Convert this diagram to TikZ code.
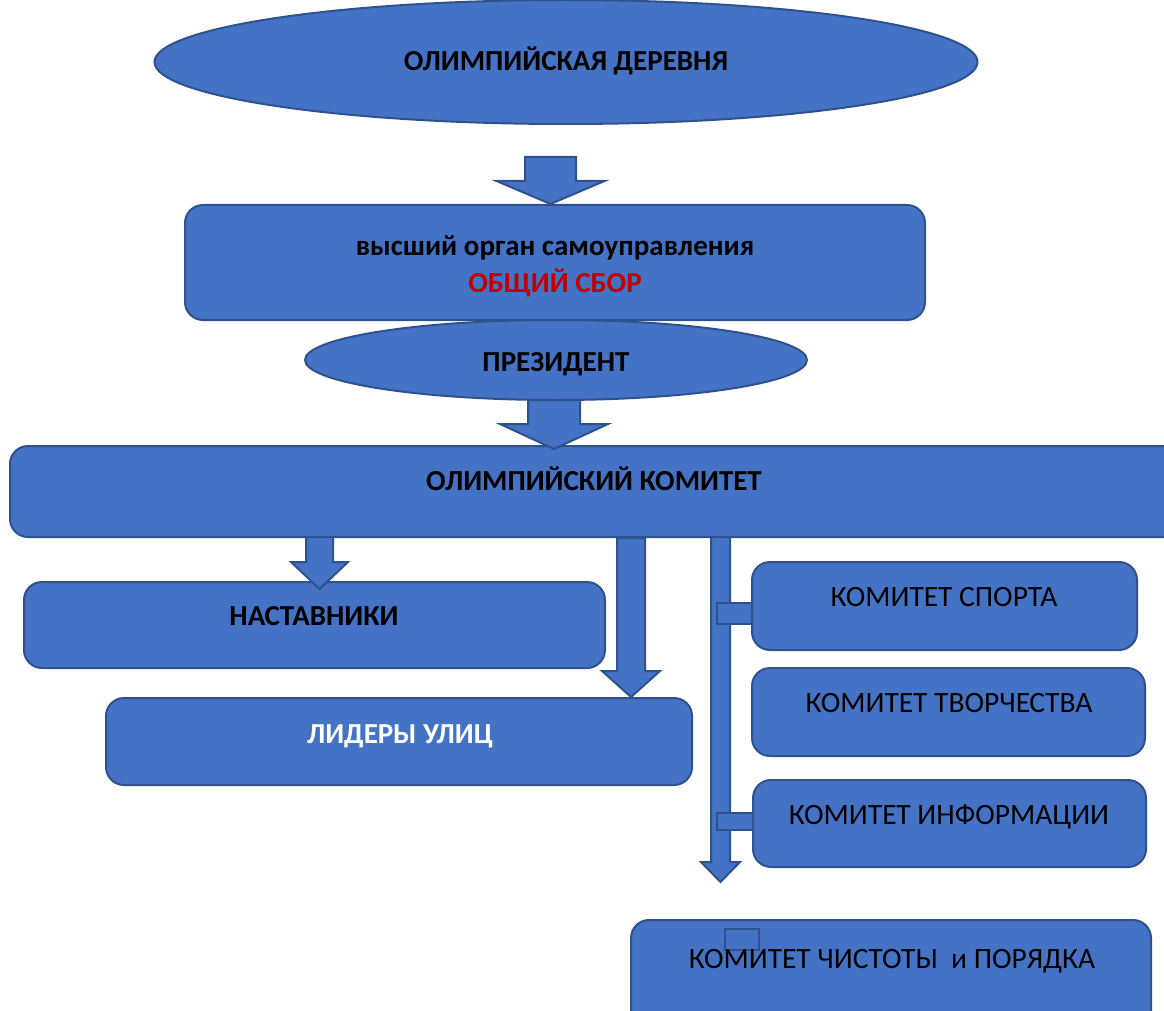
\documentclass[tikz,border=0pt]{standalone}
\usepackage{fontspec}
\setmainfont{Carlito}
\usetikzlibrary{calc,shapes.geometric}
\usepackage{xcolor}
\definecolor{BoxBlue}{RGB}{68,114,196}
\definecolor{EdgeBlue}{RGB}{47,82,143}
\definecolor{AlertRed}{RGB}{192,0,0}
\tikzset{
  oval/.style={ellipse, draw=EdgeBlue, fill=BoxBlue, line width=2pt,
    inner sep=0pt},
  panel/.style={draw=EdgeBlue, fill=BoxBlue, line width=2pt,
    rounded corners=18pt, inner sep=0pt},
  stub/.style={draw=EdgeBlue, fill=BoxBlue, line width=2pt, inner sep=0pt},
  heading/.style={anchor=base, inner sep=0pt,
    font=\fontsize{29}{33}\selectfont\bfseries},
  plain/.style={anchor=base, inner sep=0pt, font=\fontsize{29.5}{34}\selectfont},
  fat/.style={draw=EdgeBlue, fill=BoxBlue, line width=2pt, line join=miter}
}
% block arrow: #1 start, #2 tip, #3 half shaft, #4 half head, #5 head length
\newcommand{\blockarrow}[5]{%
  \draw[fat] let \p1=(#1), \p2=(#2) in
    (\x2-#3,\y1) -- (\x2+#3,\y1) -- (\x2+#3,\y2+#5) -- (\x2+#4,\y2+#5)
    -- (\x2,\y2) -- (\x2-#4,\y2+#5) -- (\x2-#3,\y2+#5) -- cycle;}

\begin{document}
\begin{tikzpicture}[x=1pt,y=-1pt]
  \useasboundingbox (0,0) rectangle (1164,1011);

  % top levels
  \node[oval, minimum width=823pt, minimum height=124pt] (village) at (566,62) {};
  \node[panel, minimum width=740pt, minimum height=115pt] (council) at (555,262.5) {};
  \node[oval, minimum width=502pt, minimum height=80pt] (president) at (556,360) {};
  \node[panel, minimum width=1180pt, minimum height=91pt] (committee) at (600,491.5) {};

  % left branch
  \node[panel, minimum width=581pt, minimum height=86pt] (mentors) at (314.5,625) {};
  \node[panel, minimum width=586pt, minimum height=87pt] (leaders) at (399,741.5) {};

  % right branch
  \node[panel, minimum width=385pt, minimum height=88pt] (sport) at (944.5,606) {};
  \node[panel, minimum width=393pt, minimum height=88pt] (art) at (948.5,712) {};
  \node[panel, minimum width=393pt, minimum height=87pt] (info) at (949.5,823.5) {};
  \node[panel, minimum width=520pt, minimum height=120pt] (order) at (891,980) {};

  % arrows
  \coordinate (a1) at (550.5,157);
  \coordinate (a2) at (554,400);
  \coordinate (a3) at (319.5,537);
  \coordinate (a4) at (631,538);
  \coordinate (a5) at (720.5,537);
  \coordinate (a5tip) at (720.5,882);
  \blockarrow{a1}{a1 |- council.north}{25.5}{54}{23}
  \blockarrow{a2}{$(a2 |- committee.north)+(0,4)$}{26}{54}{25}
  \blockarrow{a3}{$(a3 |- mentors.north)+(0,8)$}{13.5}{28.5}{27}
  \blockarrow{a4}{a4 |- leaders.north}{14}{29}{26}
  \blockarrow{a5}{a5tip}{9.5}{19.5}{20}

  % stubs
  \node[stub, minimum width=35pt, minimum height=21pt] (stubsport) at (734.5,613.5) {};
  \node[stub, minimum width=36pt, minimum height=17pt] (stubinfo) at (735,821.5) {};
  \node[stub, minimum width=34pt, minimum height=21pt] (stuborder) at (742,939.5) {};

  % texts
  \node[heading] (villagetxt) at (566,71) {ОЛИМПИЙСКАЯ ДЕРЕВНЯ};
  \node[heading] (counciltxt) at (555,255) {высший орган самоуправления};
  \node[heading, text=AlertRed] (assemblytxt) at (555,292) {ОБЩИЙ СБОР};
  \node[heading] (presidenttxt) at (556,371) {ПРЕЗИДЕНТ};
  \node[heading] (committeetxt) at (594,490.5) {ОЛИМПИЙСКИЙ КОМИТЕТ};
  \node[heading] (mentorstxt) at (314,625.5) {НАСТАВНИКИ};
  \node[heading, text=white] (leaderstxt) at (400,743) {ЛИДЕРЫ УЛИЦ};
  \node[plain] (sporttxt) at (944,606) {КОМИТЕТ СПОРТА};
  \node[plain] (arttxt) at (949,712.5) {КОМИТЕТ ТВОРЧЕСТВА};
  \node[plain] (infotxt) at (949,824.5) {КОМИТЕТ ИНФОРМАЦИИ};
  \node[plain] (ordertxt) at (892,968) {КОМИТЕТ ЧИСТОТЫ\ \ и ПОРЯДКА};
\end{tikzpicture}
\end{document}
